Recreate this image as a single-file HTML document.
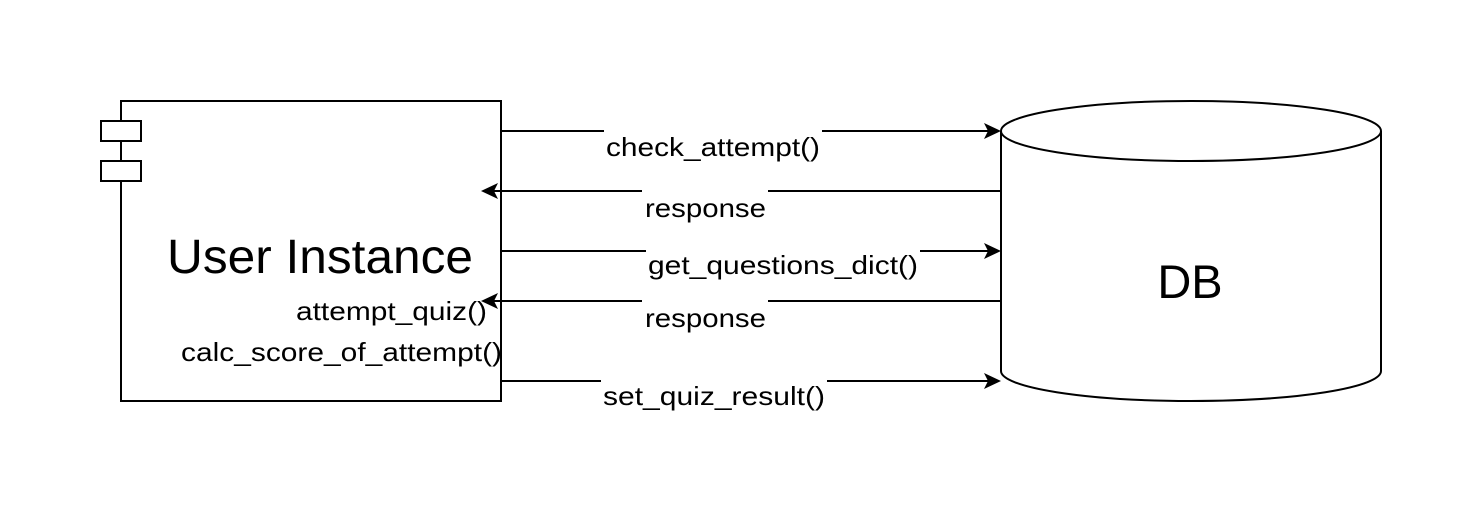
<!DOCTYPE html>
<html><head><meta charset="utf-8"><style>html,body{margin:0;padding:0;background:#fff}</style></head>
<body>
<svg width="1482" height="516" viewBox="0 0 1482 516" xmlns="http://www.w3.org/2000/svg" font-family="Liberation Sans, Arial, sans-serif">
<rect width="1482" height="516" fill="#fff"/>
<g stroke="#000" stroke-width="2" fill="#fff">
<rect x="121" y="101" width="380" height="300"/>
<rect x="101" y="121" width="40" height="20"/>
<rect x="101" y="161" width="40" height="20"/>
<path d="M1001 131 L1001 371 A190 30 0 0 0 1381 371 L1381 131 A190 30 0 0 0 1001 131 Z"/>
<path d="M1001 131 A190 30 0 0 0 1381 131" fill="none"/>
<line x1="501" y1="131" x2="990" y2="131"/>
<line x1="1001" y1="191" x2="492" y2="191"/>
<line x1="501" y1="251" x2="990" y2="251"/>
<line x1="1001" y1="301" x2="492" y2="301"/>
<line x1="501" y1="381" x2="990" y2="381"/>
</g>
<g fill="#000">
<path d="M1001 131 L984 123 L988 131 L984 139 Z"/>
<path d="M481 191 L498 183 L494 191 L498 199 Z"/>
<path d="M1001 251 L984 243 L988 251 L984 259 Z"/>
<path d="M481 301 L498 293 L494 301 L498 309 Z"/>
<path d="M1001 381 L984 373 L988 381 L984 389 Z"/>
</g>
<g fill="#fff">
<rect x="604" y="128" width="218" height="32"/>
<rect x="642" y="188" width="126" height="32"/>
<rect x="646" y="248" width="274" height="32"/>
<rect x="642" y="298" width="126" height="32"/>
<rect x="601" y="378" width="226" height="32"/>
</g>
<g font-size="26" fill="#000">
<text x="606" y="156" textLength="214" lengthAdjust="spacingAndGlyphs">check_attempt()</text>
<text x="645" y="217" textLength="121" lengthAdjust="spacingAndGlyphs">response</text>
<text x="648" y="274" textLength="270" lengthAdjust="spacingAndGlyphs">get_questions_dict()</text>
<text x="645" y="327" textLength="121" lengthAdjust="spacingAndGlyphs">response</text>
<text x="603" y="405" textLength="222" lengthAdjust="spacingAndGlyphs">set_quiz_result()</text>
<text x="296" y="320" textLength="191" lengthAdjust="spacingAndGlyphs">attempt_quiz()</text>
<text x="181" y="361" textLength="321" lengthAdjust="spacingAndGlyphs">calc_score_of_attempt()</text>
</g>
<text x="167" y="273" font-size="48" textLength="306" lengthAdjust="spacingAndGlyphs">User Instance</text>
<text x="1190" y="298" font-size="47" text-anchor="middle">DB</text>
</svg>
</body></html>
